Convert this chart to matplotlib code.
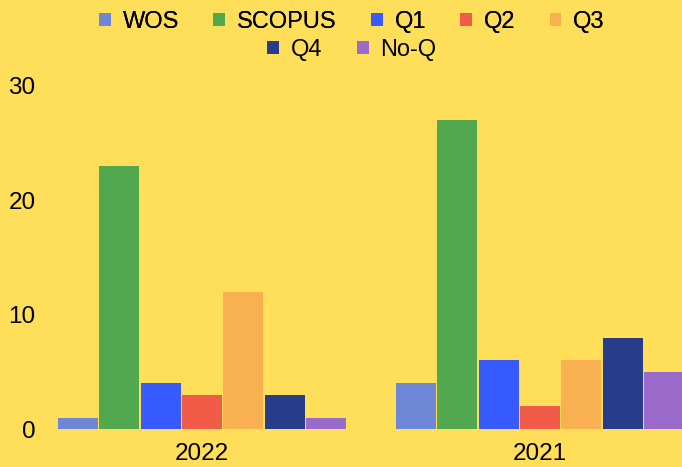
import matplotlib.pyplot as plt
from matplotlib.patches import Patch

plt.rcParams['font.family'] = ['Liberation Sans', 'DejaVu Sans']

years = ["2022", "2021"]
series = ["WOS", "SCOPUS", "Q1", "Q2", "Q3", "Q4", "No-Q"]
values = {
    "WOS": [1, 4],
    "SCOPUS": [23, 27],
    "Q1": [4, 6],
    "Q2": [3, 2],
    "Q3": [12, 6],
    "Q4": [3, 8],
    "No-Q": [1, 5],
}
colors = ["#6d86d6", "#52a84f", "#385bff", "#f05c47", "#f9b050", "#273d8b", "#9a6bcb"]
bg = "#ffde59"

W, H = 682, 467
fig = plt.figure(figsize=(W / 100, H / 100), dpi=100, facecolor=bg)
# axes in pixel coords: left 44, right 682, top 86, bottom 429
ax = fig.add_axes([44 / W, (H - 429) / H, (682 - 44) / W, (429 - 86) / H])
ax.set_facecolor(bg)

cat_px = 338.0
slot = 41.4 / cat_px
bw = 40.0 / cat_px
x = list(range(len(years)))
for i, name in enumerate(series):
    off = (i - 3) * slot
    ax.bar([xi + off for xi in x], values[name], width=bw, color=colors[i], label=name)

ax.set_xlim(-0.5 + 11 / cat_px, -0.5 + 649 / cat_px)
ax.set_ylim(0, 30)
ax.set_yticks([0, 10, 20, 30])
ax.set_xticks(x)
ax.set_xticklabels(years)
for s in ax.spines.values():
    s.set_visible(False)
ax.tick_params(axis='y', length=0, pad=6, labelsize=17.5)
ax.tick_params(axis='x', length=0, pad=10, labelsize=17.5)

handles = [Patch(facecolor=c, edgecolor='none') for c in colors]
leg_kw = dict(frameon=False, fontsize=17, handlelength=0.5, handleheight=0.5,
              handletextpad=0.5, columnspacing=1.45, borderpad=0, borderaxespad=0)
leg1 = fig.legend(handles[:5], series[:5], ncol=5, loc='center',
                  bbox_to_anchor=(352 / W, 1 - 22 / H), **leg_kw)
fig.add_artist(leg1)
fig.legend(handles[5:], series[5:], ncol=2, loc='center',
           bbox_to_anchor=(352 / W, 1 - 50 / H), **leg_kw)

fig.savefig("out.png", dpi=100, facecolor=bg)
